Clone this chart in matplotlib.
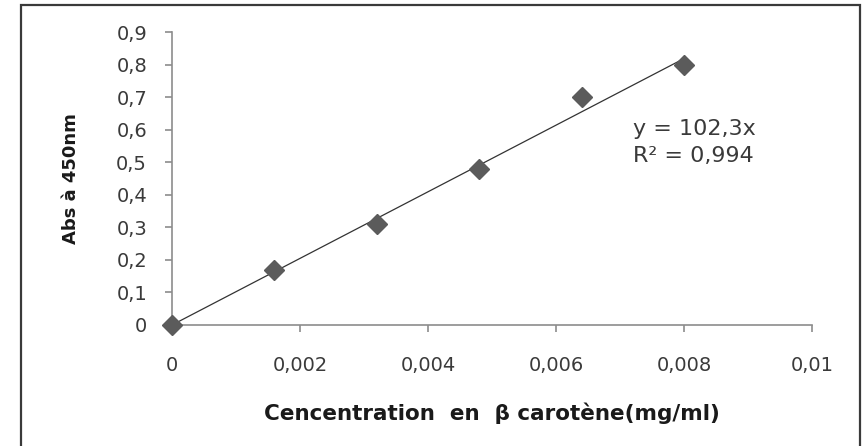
import numpy as np
import matplotlib
matplotlib.use('Agg')
import matplotlib.pyplot as plt
from matplotlib.patches import Rectangle

# concentration (mg/ml) and absorbance at 450 nm
conc = [0, 0.0016, 0.0032, 0.0048, 0.0064, 0.008]
abs450 = [0, 0.17, 0.31, 0.48, 0.70, 0.80]
slope = 102.3
xticks = [0, 0.002, 0.004, 0.006, 0.008, 0.01]
xtick_labels = ['0', '0,002', '0,004', '0,006', '0,008', '0,01']
yticks = [0, 0.1, 0.2, 0.3, 0.4, 0.5, 0.6, 0.7, 0.8, 0.9]
ytick_labels = ['0', '0,1', '0,2', '0,3', '0,4', '0,5', '0,6', '0,7', '0,8', '0,9']

plt.rcParams['font.family'] = ['DejaVu Sans']

fig = plt.figure(figsize=(8.64, 4.46), dpi=100)
ax = fig.add_axes([172/864, 1-325/446, 640/864, 293/446])

# outer chart border
fig.patches.append(Rectangle((21/864, -0.1), 839/864, 1.1-5/446,
                             transform=fig.transFigure, fill=False,
                             lw=1.6, ec='#3a3a3a'))

xl = np.array([0, conc[-1]])
ax.plot(xl, slope*xl, color='#333333', lw=0.9, zorder=2)
ax.plot(conc, abs450, 'D', color='#5b5b5b', markersize=10, mec='#5b5b5b',
        zorder=3, clip_on=False)

ax.set_xlim(0, 0.01)
ax.set_ylim(0, 0.9)
ax.set_xticks(xticks)
ax.set_xticklabels(xtick_labels)
ax.set_yticks(yticks)
ax.set_yticklabels(ytick_labels)
for s in ['top', 'right']:
    ax.spines[s].set_visible(False)
for s in ['left', 'bottom']:
    ax.spines[s].set_color('#8c8c8c')
    ax.spines[s].set_linewidth(1.2)
ax.tick_params(axis='both', color='#8c8c8c', width=1.2, length=5,
               labelsize=14, labelcolor='#3a3a3a')
ax.tick_params(axis='x', pad=17)
ax.tick_params(axis='y', pad=13)

ax.set_xlabel('Cencentration  en  β carotène(mg/ml)', fontsize=15.5,
              fontweight='bold', color='#1a1a1a', labelpad=20)
ax.set_ylabel('Abs à 450nm', fontsize=13, fontweight='bold',
              color='#1a1a1a', labelpad=26)

ax.text(0.00721, 0.56, 'y = 102,3x\nR² = 0,994', fontsize=16,
        color='#3a3a3a', va='center', ha='left', linespacing=1.4)

fig.savefig('out.png', dpi=100)
